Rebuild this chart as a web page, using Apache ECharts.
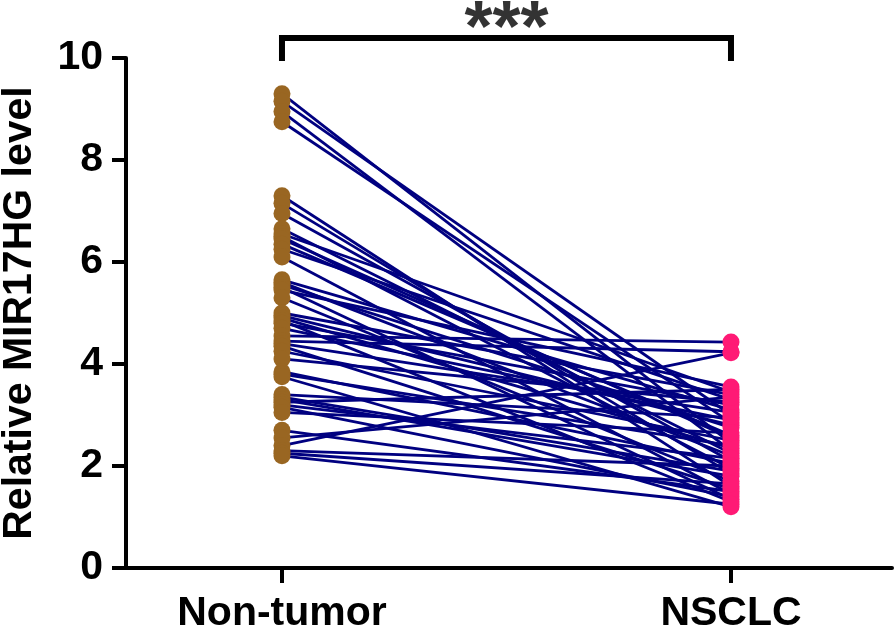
<!DOCTYPE html>
<html>
<head>
<meta charset="utf-8">
<script src="https://cdn.jsdelivr.net/npm/echarts@6/dist/echarts.min.js"></script>
<style>html,body{margin:0;padding:0;background:#fff}#c{width:894px;height:631px}</style>
</head>
<body>
<div id="c"></div>
<script>
const categories = ['Non-tumor', 'NSCLC'];
const yAxisTitle = 'Relative MIR17HG level';
const significance = '***';
// paired values (same index = same patient)
const nonTumor = [9.30, 9.15, 8.95, 8.75, 7.30, 7.15, 6.95, 6.65, 6.55, 6.50, 6.45, 6.35, 6.25, 6.10,
  5.65, 5.60, 5.55, 5.50, 5.45, 5.30, 5.00, 4.95, 4.90, 4.85, 4.80, 4.70, 4.55, 4.45, 4.40, 4.35, 4.25, 4.10,
  3.85, 3.80, 3.75, 3.40, 3.35, 3.30, 3.25, 3.20, 3.15, 3.05, 2.70, 2.55, 2.40, 2.30, 2.25, 2.20];
const nsclc = [2.45, 3.00, 2.30, 2.85, 1.60, 1.85, 2.10, 2.25, 3.45, 1.95, 2.55, 2.60, 3.30, 1.45,
  3.10, 2.20, 2.75, 1.35, 3.55, 1.70, 3.40, 2.80, 2.35, 1.30, 3.20, 2.90, 4.43, 4.24, 3.05, 1.55, 2.50, 3.25,
  2.05, 2.40, 1.20, 2.95, 1.90, 1.80, 3.50, 2.15, 1.40, 2.65, 1.50, 3.35, 4.22, 2.00, 1.65, 1.25];
const bracketBottom = 9.94;
const bracketTop = 10.39;

const FONT = '"Liberation Sans", Arial, sans-serif';
const chart = echarts.init(document.getElementById('c'), null, {renderer: 'canvas'});
const pairLines = nonTumor.map((v, i) => ({coords: [[0, v], [1, nsclc[i]]]}));

chart.setOption({
  animation: false,
  backgroundColor: '#fff',
  grid: {left: 126, right: 2, top: 58, bottom: 63, containLabel: false, outerBoundsMode: 'none'},
  xAxis: {
    type: 'value', min: -0.3474, max: 1.3586,
    axisLine: {show: true, onZero: false, lineStyle: {color: '#000', width: 4}},
    axisTick: {show: true, customValues: [0, 1], length: 15, lineStyle: {color: '#000', width: 4}},
    axisLabel: {show: true, customValues: [0, 1], formatter: v => categories[Math.round(v)],
      color: '#000', fontFamily: FONT, fontWeight: 'bold', fontSize: 41, margin: 25},
    splitLine: {show: false}
  },
  yAxis: {
    type: 'value', min: 0, max: 10, interval: 2,
    name: yAxisTitle, nameLocation: 'middle', nameGap: 86,
    nameTextStyle: {color: '#000', fontFamily: FONT, fontWeight: 'bold', fontSize: 41},
    axisLine: {show: true, onZero: false, lineStyle: {color: '#000', width: 4}},
    axisTick: {show: true, length: 14, lineStyle: {color: '#000', width: 4}},
    axisLabel: {color: '#000', fontFamily: FONT, fontWeight: 'bold', fontSize: 41, margin: 23},
    splitLine: {show: false}
  },
  series: [
    {
      type: 'lines', coordinateSystem: 'cartesian2d', data: pairLines, silent: true,
      lineStyle: {color: '#000080', width: 2.8, opacity: 1}, z: 2
    },
    {
      type: 'scatter', data: nonTumor.map(v => [0, v]), symbol: 'circle', symbolSize: 17,
      itemStyle: {color: '#996622', opacity: 1}, z: 3, silent: true
    },
    {
      type: 'scatter', data: nsclc.map(v => [1, v]), symbol: 'circle', symbolSize: 17,
      itemStyle: {color: '#FF1A75', opacity: 1}, z: 3, silent: true
    },
    {
      type: 'line', clip: false, symbol: 'none', silent: true, z: 4,
      data: [[0, bracketBottom], [0, bracketTop], [1, bracketTop], [1, bracketBottom]],
      lineStyle: {color: '#000', width: 6, join: 'miter', cap: 'butt'}
    },
    {
      type: 'scatter', clip: false, silent: true, symbolSize: 0, z: 5,
      data: [[0.5, bracketTop]],
      label: {show: true, formatter: significance, position: 'top', distance: -29,
        color: '#000', fontFamily: FONT, fontWeight: 'bold', fontSize: 72}
    }
  ]
});
</script>
</body>
</html>
